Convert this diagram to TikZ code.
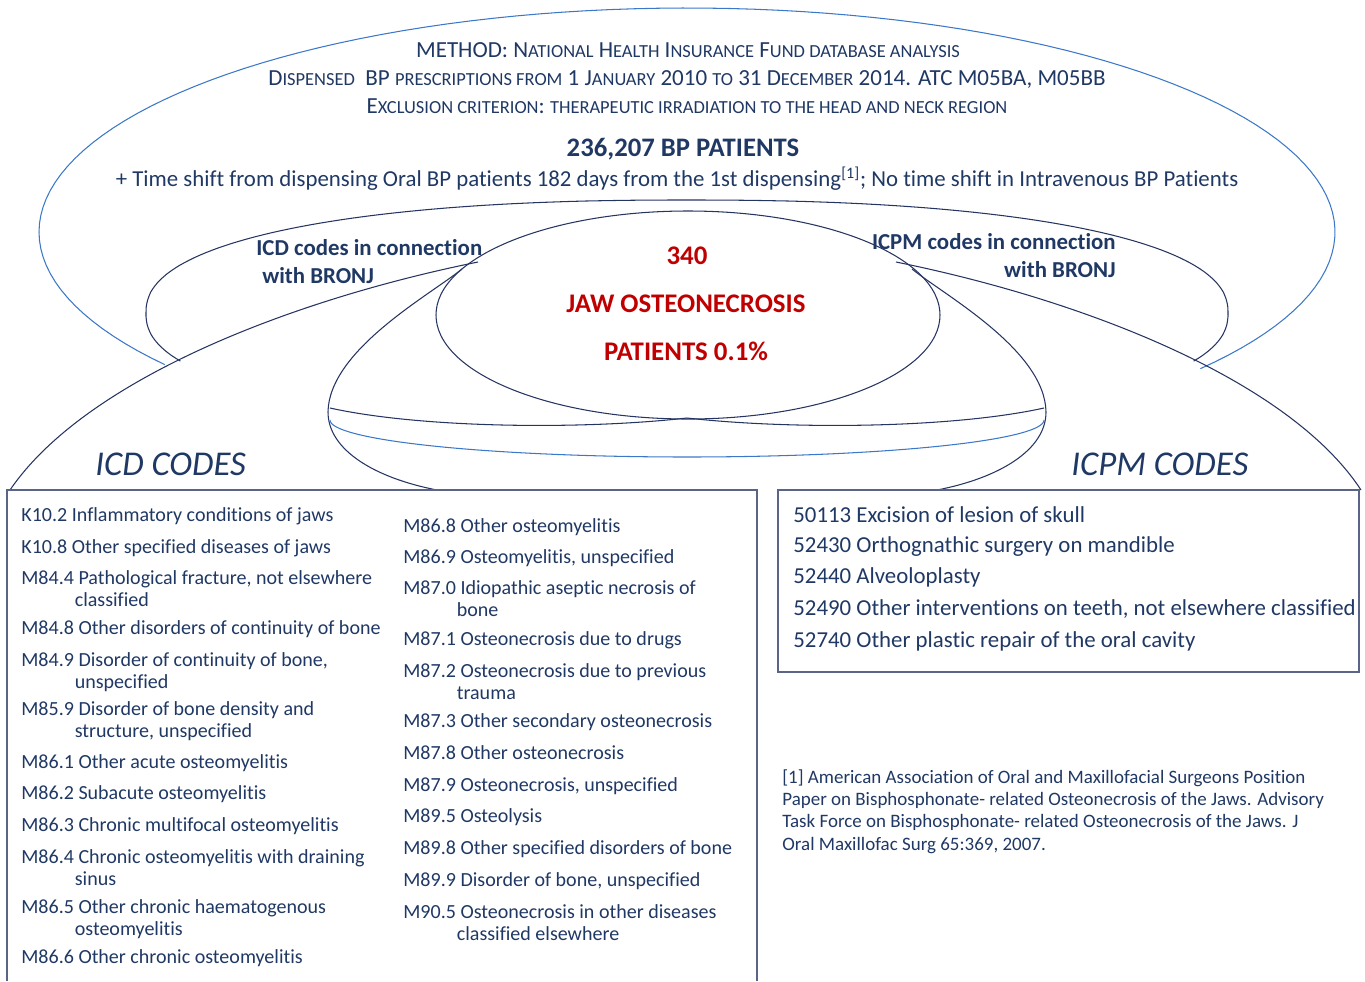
\documentclass[tikz,border=0pt]{standalone}
\usepackage{fontspec}
\setmainfont{Carlito}[Ligatures=NoCommon]
\usepackage{xcolor}
\usepackage{tikz}
\usetikzlibrary{positioning}

\definecolor{navy}{RGB}{31,56,100}
\definecolor{linenavy}{RGB}{38,52,98}
\definecolor{skyline}{RGB}{60,120,200}
\definecolor{darkred}{RGB}{192,0,0}
\definecolor{boxgray}{RGB}{90,100,135}

% fake small caps and hanging second line
\newcommand{\sm}[1]{{\fontsize{10.5}{12}\selectfont #1}}
\newcommand{\cont}{\\\hspace*{1.07cm}}

\tikzset{
    lobe/.style={linenavy, line width=0.6pt},
    halo/.style={skyline, line width=0.6pt},
    codebox/.style={boxgray, line width=0.8pt},
    smallcap/.style={navy, anchor=base, inner sep=0pt, font=\fontsize{13.1}{15}\selectfont},
    bronj/.style={navy, inner sep=0pt, font=\bfseries\fontsize{13}{15.6}\selectfont},
    redbig/.style={darkred, anchor=base, inner sep=0pt, font=\bfseries\fontsize{15.3}{17}\selectfont},
    codetitle/.style={navy, anchor=base west, inner sep=0pt, font=\itshape\fontsize{19.8}{24}\selectfont},
    code/.style={navy, anchor=base west, align=left, inner sep=0pt, font=\fontsize{11.4}{12.5}\selectfont},
    bigcode/.style={navy, anchor=base west, inner sep=0pt, font=\fontsize{13}{15}\selectfont}
}

\begin{document}
\begin{tikzpicture}[x=0.02cm, y=-0.02cm]
    \useasboundingbox (0,0) rectangle (1365,981);

    % Outer blue arc
    \draw[halo, domain=143.7:397.6, samples=120] plot ({687+648*cos(\x)}, {232+224*sin(\x)});

    % Middle arc, slightly squarer than an ellipse
    \draw[lobe, domain=158:382, samples=150]
        plot ({687+541*sign(cos(\x))*pow(abs(cos(\x)),0.87)}, {313+113*sign(sin(\x))*pow(abs(sin(\x)),0.87)});

    % Inner ellipse
    \draw[lobe] (688,315) ellipse [x radius=252, y radius=104];

    % Side lobes
    \draw[lobe] (10,490) .. controls (85,380) and (290,300) .. (478,262);
    \draw[lobe] (896,262) .. controls (1084,300) and (1289,380) .. (1361,490);

    % Central lobe
    \draw[lobe] (462,269) .. controls (430,295) and (329,350) .. (328,412)
        .. controls (328,450) and (375,478) .. (437,490);
    \draw[lobe] (912,269) .. controls (944,295) and (1045,350) .. (1046,412)
        .. controls (1046,450) and (999,478) .. (937,490);

    % Bottom bands
    \draw[lobe] (330,408) .. controls (420,428) and (580,430) .. (687,418)
        .. controls (794,430) and (954,428) .. (1044,408);
    \draw[halo, domain=180:0, samples=80] plot ({687+357*cos(\x)}, {420+37*sin(\x)});

    % Boxes
    \draw[codebox] (7,981) -- (7,490) -- (757,490) -- (757,981);
    \draw[codebox] (778,490) rectangle (1359,672);

    % Method text
    \node[smallcap] (method) at (688,57) {METHOD: N\sm{ATIONAL} H\sm{EALTH} I\sm{NSURANCE} F\sm{UND DATABASE ANALYSIS}};
    \node[smallcap] (dispensed) at (687,85) {D\sm{ISPENSED}\ \ BP \sm{PRESCRIPTIONS FROM} 1 J\sm{ANUARY} 2010 \sm{TO} 31 D\sm{ECEMBER} 2014. ATC M05BA, M05BB};
    \node[smallcap] (exclusion) at (687,113) {E\sm{XCLUSION CRITERION}: \sm{THERAPEUTIC IRRADIATION TO THE HEAD AND NECK REGION}};
    \node[navy, anchor=base, inner sep=0pt, font=\bfseries\fontsize{15.2}{17}\selectfont] (total) at (683,156) {236,207 BP PATIENTS};
    \node[navy, anchor=base, inner sep=0pt, font=\fontsize{13}{15}\selectfont] (shift) at (677,186)
        {+ Time shift from dispensing Oral BP patients 182 days from the 1st dispensing\textsuperscript{[1]}; No time shift in Intravenous BP Patients};

    % Lobe labels (base = last line)
    \node[bronj, anchor=base west, align=left] (icdlink) at (256,283) {ICD codes in connection\\\hspace*{0.12cm}with BRONJ};
    \node[bronj, anchor=base east, align=right] (icpmlink) at (1116,277) {ICPM codes in connection\\with BRONJ};

    \node[redbig] (count) at (687,264) {340};
    \node[redbig] (jaw) at (686,312) {JAW OSTEONECROSIS};
    \node[redbig] (share) at (686,360) {PATIENTS 0.1\%};

    \node[codetitle] (icdtitle) at (95,475) {ICD CODES};
    \node[codetitle] (icpmtitle) at (1071,475) {ICPM CODES};

    % ICD codes, first column (y = baseline of last line)
    \foreach \yy/\txt [count=\i] in {
        521/{K10.2 Inflammatory conditions of jaws},
        553/{K10.8 Other specified diseases of jaws},
        606/{M84.4 Pathological fracture, not elsewhere\cont classified},
        634/{M84.8 Other disorders of continuity of bone},
        688/{M84.9 Disorder of continuity of bone,\cont unspecified},
        737/{M85.9 Disorder of bone density and\cont structure, unspecified},
        768/{M86.1 Other acute osteomyelitis},
        799/{M86.2 Subacute osteomyelitis},
        831/{M86.3 Chronic multifocal osteomyelitis},
        885/{M86.4 Chronic osteomyelitis with draining\cont sinus},
        935/{M86.5 Other chronic haematogenous\cont osteomyelitis},
        963/{M86.6 Other chronic osteomyelitis}}
        \node[code] (icdA\i) at (21,\yy) {\txt};

    % ICD codes, second column
    \foreach \yy/\txt [count=\i] in {
        532/{M86.8 Other osteomyelitis},
        563/{M86.9 Osteomyelitis, unspecified},
        616/{M87.0 Idiopathic aseptic necrosis of\cont bone},
        645/{M87.1 Osteonecrosis due to drugs},
        699/{M87.2 Osteonecrosis due to previous\cont trauma},
        727/{M87.3 Other secondary osteonecrosis},
        759/{M87.8 Other osteonecrosis},
        791/{M87.9 Osteonecrosis, unspecified},
        822/{M89.5 Osteolysis},
        854/{M89.8 Other specified disorders of bone},
        886/{M89.9 Disorder of bone, unspecified},
        940/{M90.5 Osteonecrosis in other diseases\cont classified elsewhere}}
        \node[code] (icdB\i) at (403,\yy) {\txt};

    % ICPM codes
    \foreach \yy/\txt [count=\i] in {
        522/{50113 Excision of lesion of skull},
        552/{52430 Orthognathic surgery on mandible},
        583/{52440 Alveoloplasty},
        615/{52490 Other interventions on teeth, not elsewhere classified},
        647/{52740 Other plastic repair of the oral cavity}}
        \node[bigcode] (icpm\i) at (793,\yy) {\txt};

    % Reference
    \node[code, font=\fontsize{10.8}{12.6}\selectfont] (ref) at (782,850)
        {[1] American Association of Oral and Maxillofacial Surgeons Position\\
         Paper on Bisphosphonate- related Osteonecrosis of the Jaws. Advisory\\
         Task Force on Bisphosphonate- related Osteonecrosis of the Jaws. J\\
         Oral Maxillofac Surg 65:369, 2007.};
\end{tikzpicture}
\end{document}
